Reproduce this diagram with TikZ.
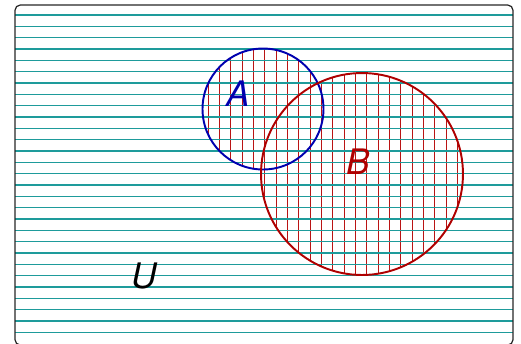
\documentclass[tikz,border=0pt]{standalone}
\usepackage{fontspec}
\setsansfont{TeX Gyre Heros}
\definecolor{hline}{RGB}{30,155,155}
\definecolor{vline}{RGB}{185,20,20}
\definecolor{setA}{RGB}{0,0,175}
\definecolor{setB}{RGB}{175,0,0}
\tikzset{
  universe/.style={draw=black!85, line width=0.7pt, rounded corners=3pt},
  hatchh/.style={draw=hline, line width=0.75pt},
  hatchv/.style={draw=vline, line width=0.55pt},
  setlabel/.style={font=\sffamily\itshape\fontsize{20}{24}\selectfont, inner sep=0pt}
}
\begin{document}
\begin{tikzpicture}[x=0.02cm, y=-0.02cm]
\useasboundingbox (0,0) rectangle (521,343);
% vertical hatching inside A union B
\begin{scope}
  \clip (263,109) circle[radius=1.21cm] (362,174) circle[radius=2.02cm];
  \foreach \k in {0,...,22} {
    \draw[hatchv] (208.3+11.333*\k, 40) -- (208.3+11.333*\k, 290);
  }
\end{scope}
% horizontal hatching over universe
\foreach \k in {0,...,28} {
  \draw[hatchh] (15, 15+11.333*\k) -- (513, 15+11.333*\k);
}
% circles
\node[circle, draw=setA, line width=1.1pt, minimum size=2.42cm, inner sep=0pt] (A) at (263,109) {};
\node[circle, draw=setB, line width=1.1pt, minimum size=4.04cm, inner sep=0pt] (B) at (362,174) {};
% universe frame (bottom edge lies just below the visible area)
\draw[universe] (15,5) rectangle (513,345);
% labels
\node[setlabel, text=setA] (la) at (238,94) {A};
\node[setlabel, text=setB] (lb) at (358,162) {B};
\node[setlabel, text=black] (lu) at (144,276) {U};
\end{tikzpicture}
\end{document}
